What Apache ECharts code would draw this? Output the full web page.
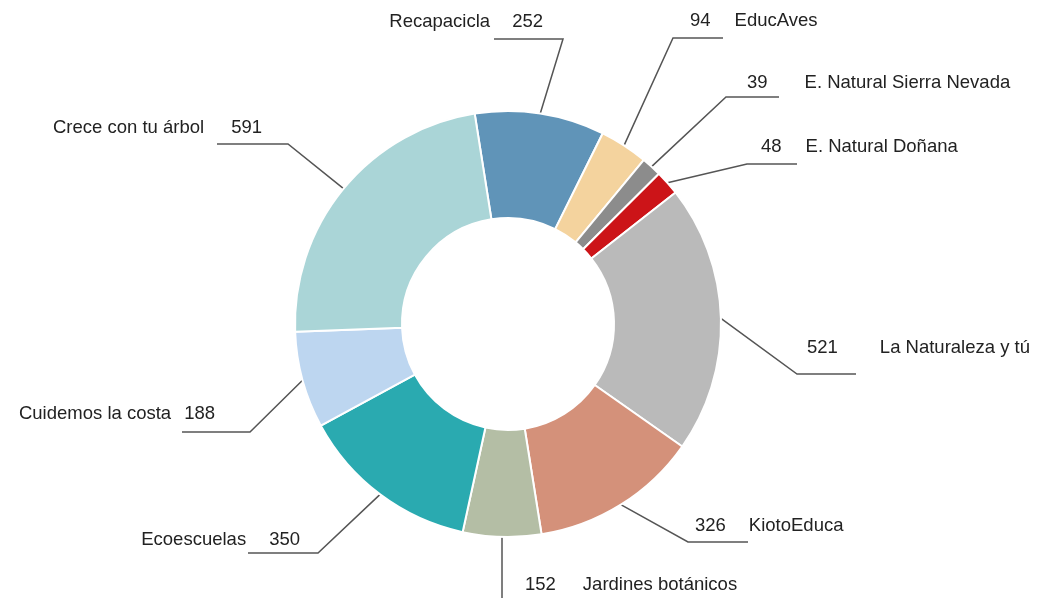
<!DOCTYPE html>
<html>
<head>
<meta charset="utf-8">
<script src="https://cdn.jsdelivr.net/npm/echarts@6/dist/echarts.min.js"></script>
<style>
html,body{margin:0;padding:0;background:#fff;}
#c{width:1039px;height:598px;}
</style>
</head>
<body>
<div id="c"></div>
<script>
// ---- data ----
const names = ['Recapacicla', 'EducAves', 'E. Natural Sierra Nevada', 'E. Natural Doñana', 'La Naturaleza y tú', 'KiotoEduca', 'Jardines botánicos', 'Ecoescuelas', 'Cuidemos la costa', 'Crece con tu árbol'];
const values = [252, 94, 39, 48, 521, 326, 152, 350, 188, 591];
const colors = ['#6094b8', '#f4d39e', '#8c8c8c', '#cc1418', '#bababa', '#d4917a', '#b4bea5', '#2aaab0', '#bdd6f0', '#aad5d7'];

// ---- label layout (positions only) ----
// side: 'L' => "name  value" right-aligned at tx; 'R' => "value  name" left-aligned at tx
const lay = [
  {side:'L', tx:543, ty:22,  gap:22, bx:563, ly:39,  ex:494},
  {side:'R', tx:690, ty:21,  gap:24, bx:673, ly:38,  ex:723},
  {side:'R', tx:747, ty:83,  gap:37, bx:726, ly:97,  ex:779},
  {side:'R', tx:761, ty:147, gap:24, bx:747, ly:164, ex:797},
  {side:'R', tx:807, ty:348, gap:42, bx:797, ly:374, ex:856},
  {side:'R', tx:695, ty:526, gap:23, bx:688, ly:542, ex:748},
  {side:'R', tx:525, ty:585, gap:27, bx:null, ly:606, ex:575},
  {side:'L', tx:300, ty:540, gap:23, bx:318, ly:553, ex:248},
  {side:'L', tx:215, ty:414, gap:13, bx:250, ly:432, ex:182},
  {side:'L', tx:262, ty:128, gap:27, bx:288, ly:144, ex:217}
];

const FONT = '"Liberation Sans", Arial, Helvetica, sans-serif';
const FS = 18.5;

const seriesData = names.map((n, i) => {
  const L = lay[i];
  const rich = L.side === 'L'
    ? { n: {fontSize: FS, fontFamily: FONT, color: '#222'},
        v: {fontSize: FS, fontFamily: FONT, color: '#222', padding: [0, 0, 0, L.gap]} }
    : { v: {fontSize: FS, fontFamily: FONT, color: '#222'},
        n: {fontSize: FS, fontFamily: FONT, color: '#222', padding: [0, 0, 0, L.gap]} };
  return {
    name: n,
    value: values[i],
    itemStyle: {color: colors[i]},
    label: {
      rich: rich,
      formatter: L.side === 'L' ? '{n|{b}}{v|{c}}' : '{v|{c}}{n|{b}}'
    }
  };
});

const chart = echarts.init(document.getElementById('c'), null, {renderer: 'canvas'});
chart.setOption({
  animation: false,
  backgroundColor: '#fff',
  series: [{
    type: 'pie',
    center: [508, 324],
    radius: [106, 213],
    startAngle: 99,
    clockwise: true,
    avoidLabelOverlap: false,
    itemStyle: {borderColor: '#fff', borderWidth: 2},
    emphasis: {disabled: true},
    label: {
      show: true,
      position: 'outside',
      fontFamily: FONT,
      fontSize: FS,
      color: '#222'
    },
    labelLine: {
      show: true,
      length: 20,
      length2: 20,
      smooth: false,
      lineStyle: {color: '#555', width: 1.5}
    },
    labelLayout: function (p) {
      const L = lay[p.dataIndex];
      const pts = p.labelLinePoints;
      const p0 = pts ? pts[0] : [L.bx, L.ly];
      const bx = L.bx == null ? p0[0] : L.bx;
      return {
        x: L.tx,
        y: L.ty,
        align: L.side === 'L' ? 'right' : 'left',
        verticalAlign: 'middle',
        labelLinePoints: [p0, [bx, L.ly], [L.ex, L.ly]]
      };
    },
    data: seriesData
  }]
});
</script>
</body>
</html>
